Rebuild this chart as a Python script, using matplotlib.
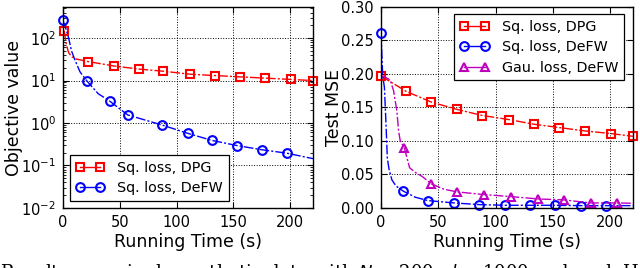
import matplotlib
matplotlib.use("Agg")
import matplotlib.pyplot as plt
from matplotlib.lines import Line2D
from matplotlib.ticker import LogLocator, FixedLocator, FormatStrFormatter

plt.rcParams['font.family'] = ['DejaVu Sans']
plt.rcParams['mathtext.fontset'] = 'dejavusans'

# ---------------- Left panel: objective value (log scale) ----------------
left_dpg_x = [1, 3, 5, 8, 12, 22, 45, 67, 88, 112, 134, 156, 178, 201, 220]
left_dpg_y = [150, 70, 45, 36, 32, 28, 22, 18.6, 16.6, 14.1, 13.1, 12.2, 11.4, 10.6, 10.0]
left_dpg_mx = [1, 22, 45, 67, 88, 112, 134, 156, 178, 201, 220]
left_dpg_my = [150, 28, 22, 18.6, 16.6, 14.1, 13.1, 12.2, 11.4, 10.6, 10.0]

left_defw_x = [0, 2, 4.7, 7.5, 10.6, 15, 21, 31, 41, 57, 87, 110, 131, 153, 175, 197, 220]
left_defw_y = [260, 185, 107, 50, 30, 16, 9.8, 4.9, 3.3, 1.55, 0.9, 0.57, 0.39, 0.295, 0.235, 0.195, 0.145]
left_defw_mx = [0, 21, 41, 57, 87, 110, 131, 153, 175, 197]
left_defw_my = [260, 9.8, 3.3, 1.55, 0.9, 0.57, 0.39, 0.295, 0.235, 0.195]

# ---------------- Right panel: test MSE ----------------
right_dpg_x = [0, 22, 44, 66.6, 88.6, 111.5, 133.5, 155.5, 178, 201, 220]
right_dpg_y = [0.197, 0.174, 0.158, 0.147, 0.138, 0.132, 0.125, 0.120, 0.115, 0.111, 0.107]

right_defw_x = [0, 1.5, 3, 4.5, 5.5, 7, 9.5, 13, 19.6, 30, 41, 64, 86, 108.5, 130, 152, 175, 196.5, 220]
right_defw_y = [0.261, 0.197, 0.18, 0.12, 0.075, 0.058, 0.042, 0.033, 0.025, 0.016, 0.011, 0.0075,
                0.005, 0.004, 0.004, 0.004, 0.0035, 0.0035, 0.0035]
right_defw_mx = [0, 19.6, 41, 64, 86, 108.5, 130, 152, 175, 196.5]
right_defw_my = [0.261, 0.025, 0.011, 0.0075, 0.005, 0.004, 0.004, 0.004, 0.0035, 0.0035]

right_gau_x = [0, 2, 8, 11, 12.3, 13.8, 15.3, 16.7, 20.5, 25, 30, 36, 44, 55, 66.4, 89.9, 113.4,
               137, 160, 183, 206.5, 220]
right_gau_y = [0.197, 0.197, 0.191, 0.175, 0.161, 0.146, 0.116, 0.101, 0.089, 0.060, 0.053, 0.047,
               0.036, 0.028, 0.024, 0.020, 0.017, 0.0135, 0.012, 0.0075, 0.0075, 0.007]
right_gau_mx = [20.5, 44, 66.4, 89.9, 113.4, 137, 160, 183, 206.5]
right_gau_my = [0.089, 0.036, 0.024, 0.020, 0.017, 0.0135, 0.012, 0.0075, 0.0075]

labels_left = ["Sq. loss, DPG", "Sq. loss, DeFW"]
labels_right = ["Sq. loss, DPG", "Sq. loss, DeFW", "Gau. loss, DeFW"]
x_ticks = [0, 50, 100, 150, 200]
right_y_ticks = [0.00, 0.05, 0.10, 0.15, 0.20, 0.25, 0.30]
caption = "Results on a single synthetic data with $N$ = 200, $d$ = 1000 and each H"

RED, BLUE, MAG = '#ff0000', '#0000ff', '#bf00bf'
MS, MEW, LW = 6.3, 1.5, 1.0

fig = plt.figure(figsize=(6.4, 2.68), dpi=100)
axL = fig.add_axes([0.0984, 0.224, 0.3906, 0.750])
axR = fig.add_axes([0.5953, 0.224, 0.3937, 0.750])


def style(ax):
    ax.tick_params(which='both', direction='in', top=True, right=True, labelsize=10.5,
                   pad=5)
    ax.tick_params(which='major', length=4, width=0.8)
    ax.tick_params(which='minor', length=2, width=0.6)
    ax.grid(True, which='major', color='k', linestyle=':', linewidth=0.7)
    for s in ax.spines.values():
        s.set_linewidth(1.0)
    ax.set_xlim(0, 220)
    ax.xaxis.set_major_locator(FixedLocator(x_ticks))
    ax.set_xlabel("Running Time (s)", fontsize=12.5, labelpad=2)


def series(ax, x, y, mx, my, color, marker):
    ax.plot(x, y, linestyle=(0, (7, 1.5, 1.5, 1.5)), color=color, linewidth=LW)
    ax.plot(mx, my, linestyle='none', marker=marker, markersize=MS,
            markerfacecolor='none', markeredgecolor=color, markeredgewidth=MEW, clip_on=False)


def handle(color, marker):
    return Line2D([0], [0], color=color, linestyle='-', linewidth=LW, marker=marker,
                  markersize=MS, markerfacecolor='none', markeredgecolor=color,
                  markeredgewidth=MEW)


# Left
series(axL, left_dpg_x, left_dpg_y, left_dpg_mx, left_dpg_my, RED, 's')
series(axL, left_defw_x, left_defw_y, left_defw_mx, left_defw_my, BLUE, 'o')
axL.set_yscale('log')
axL.set_ylim(1e-2, 540)
axL.yaxis.set_major_locator(LogLocator(base=10, numticks=10))
axL.yaxis.set_minor_locator(LogLocator(base=10, subs=range(2, 10), numticks=20))
style(axL)
axL.set_ylabel("Objective value", fontsize=12.5)
axL.yaxis.set_label_coords(-0.16, 0.5)
legL = axL.legend([handle(RED, 's'), handle(BLUE, 'o')], labels_left, loc='lower left',
                  numpoints=2, fontsize=10.3, fancybox=False, framealpha=1,
                  edgecolor='k', borderpad=0.4, handlelength=2.0, handletextpad=0.9,
                  labelspacing=0.45, borderaxespad=0, bbox_to_anchor=(0.028, 0.035))
legL.get_frame().set_linewidth(0.9)

# Right
series(axR, right_dpg_x, right_dpg_y, right_dpg_x, right_dpg_y, RED, 's')
series(axR, right_defw_x, right_defw_y, right_defw_mx, right_defw_my, BLUE, 'o')
series(axR, right_gau_x, right_gau_y, right_gau_mx, right_gau_my, MAG, '^')
axR.set_ylim(0, 0.30)
axR.yaxis.set_major_locator(FixedLocator(right_y_ticks))
axR.yaxis.set_major_formatter(FormatStrFormatter('%.2f'))
style(axR)
axR.set_ylabel("Test MSE", fontsize=12.5)
axR.yaxis.set_label_coords(-0.151, 0.5)
legR = axR.legend([handle(RED, 's'), handle(BLUE, 'o'), handle(MAG, '^')], labels_right,
                  loc='upper right', numpoints=2, fontsize=10.3, fancybox=False,
                  framealpha=1, edgecolor='k', borderpad=0.4, handlelength=2.0,
                  handletextpad=0.9, labelspacing=0.45, borderaxespad=0,
                  bbox_to_anchor=(0.964, 0.965))
legR.get_frame().set_linewidth(0.9)

# Caption of the source page, cropped at the bottom edge as in the reference
fig.text(0.0, 1 - 261.5 / 268, caption, va='top', ha='left', fontsize=13,
         family=['DejaVu Serif'])

fig.savefig("out.png", dpi=100)
